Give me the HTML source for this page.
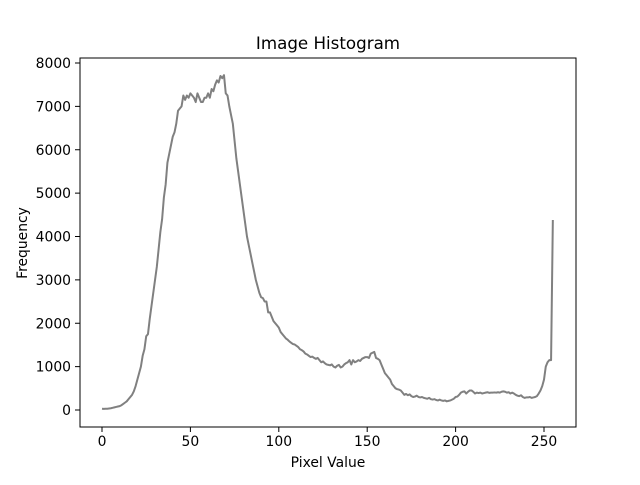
<!DOCTYPE html>
<html><head><meta charset="utf-8"><style>
body{margin:0;background:#fff;}
svg text{font-family:"DejaVu Sans","Liberation Sans",sans-serif;fill:#000;}
</style></head><body>
<svg id="chart" width="640" height="480">
<rect x="0" y="0" width="640" height="480" fill="#fff"/>
<text x="328" y="49" font-size="16.7" text-anchor="middle">Image Histogram</text>
<text x="328" y="467" font-size="13.9" text-anchor="middle">Pixel Value</text>
<text x="27" y="243" font-size="13.9" text-anchor="middle" transform="rotate(-90 27 243)">Frequency</text>
<g id="xt"></g><g id="yt"></g>
<path id="line" fill="none" stroke="#808080" stroke-width="2" stroke-linejoin="round"/>
<rect x="80" y="58" width="496" height="369" fill="none" stroke="#000" stroke-width="1"/>
</svg>
<script>
const xTicks=[0,50,100,150,200,250];
const yTicks=[0,1000,2000,3000,4000,5000,6000,7000,8000];
const counts=[30,25,30,30,35,40,50,60,70,80,90,
110,140,170,200,250,300,350,430,550,700,
850,1000,1250,1400,1700,1750,2100,2400,2700,3000,
3300,3700,4100,4400,4900,5200,5700,5900,6100,6300,
6400,6600,6900,6950,7000,7250,7150,7250,7200,7300,
7250,7200,7100,7300,7200,7100,7100,7200,7200,7300,
7200,7400,7350,7500,7600,7550,7700,7650,7720,7300,
7250,7000,6800,6600,6200,5800,5500,5200,4900,4600,
4300,4000,3800,3600,3400,3200,3000,2850,2700,2600,
2580,2500,2500,2250,2250,2150,2050,2000,1950,1900,
1800,1750,1700,1650,1620,1580,1550,1520,1510,1480,
1450,1400,1380,1350,1300,1280,1250,1220,1230,1200,
1180,1200,1150,1100,1120,1080,1050,1040,1030,1050,
1000,980,1020,1040,980,1000,1050,1080,1100,1150,
1050,1150,1100,1120,1150,1130,1180,1200,1220,1220,
1200,1300,1320,1340,1200,1180,1150,1050,950,850,
800,750,700,600,550,500,480,470,450,400,
350,370,340,360,320,300,310,330,300,290,
300,280,270,260,280,250,240,250,230,220,
240,220,210,220,200,210,220,240,260,300,
310,350,400,420,430,380,420,450,450,420,
380,400,390,400,380,390,400,410,395,400,
400,405,400,410,400,420,430,420,400,410,
380,400,380,350,330,320,340,300,280,290,
290,300,280,290,300,320,380,450,550,700,
1000,1100,1150,1150,4380];
const NS='http://www.w3.org/2000/svg';
const X=v=>102+v*1.768;
const Y=v=>410-v*0.043375;
const xt=document.getElementById('xt'),yt=document.getElementById('yt');
xTicks.forEach(t=>{
  const l=document.createElementNS(NS,'line');
  l.setAttribute('x1',X(t));l.setAttribute('x2',X(t));l.setAttribute('y1',427);l.setAttribute('y2',432);l.setAttribute('stroke','#000');
  
  
  xt.appendChild(l);
  const s=document.createElementNS(NS,'text');
  s.setAttribute('x',X(t));s.setAttribute('y',446);s.setAttribute('font-size','13.9');s.setAttribute('text-anchor','middle');
  s.textContent=t;
  
  
  xt.appendChild(s);
});
yTicks.forEach(t=>{
  const l=document.createElementNS(NS,'line');
  l.setAttribute('x1',75);l.setAttribute('x2',80);l.setAttribute('y1',Y(t));l.setAttribute('y2',Y(t));l.setAttribute('stroke','#000');
  
  
  yt.appendChild(l);
  const s=document.createElementNS(NS,'text');
  s.setAttribute('x',71);s.setAttribute('y',Y(t)+5);s.setAttribute('font-size','13.9');s.setAttribute('text-anchor','end');
  s.textContent=t;
  
  
  yt.appendChild(s);
});
document.getElementById('line').setAttribute('d',counts.map((c,i)=>(i?'L':'M')+X(i).toFixed(2)+' '+Y(c).toFixed(2)).join(''));
</script>
</body></html>
